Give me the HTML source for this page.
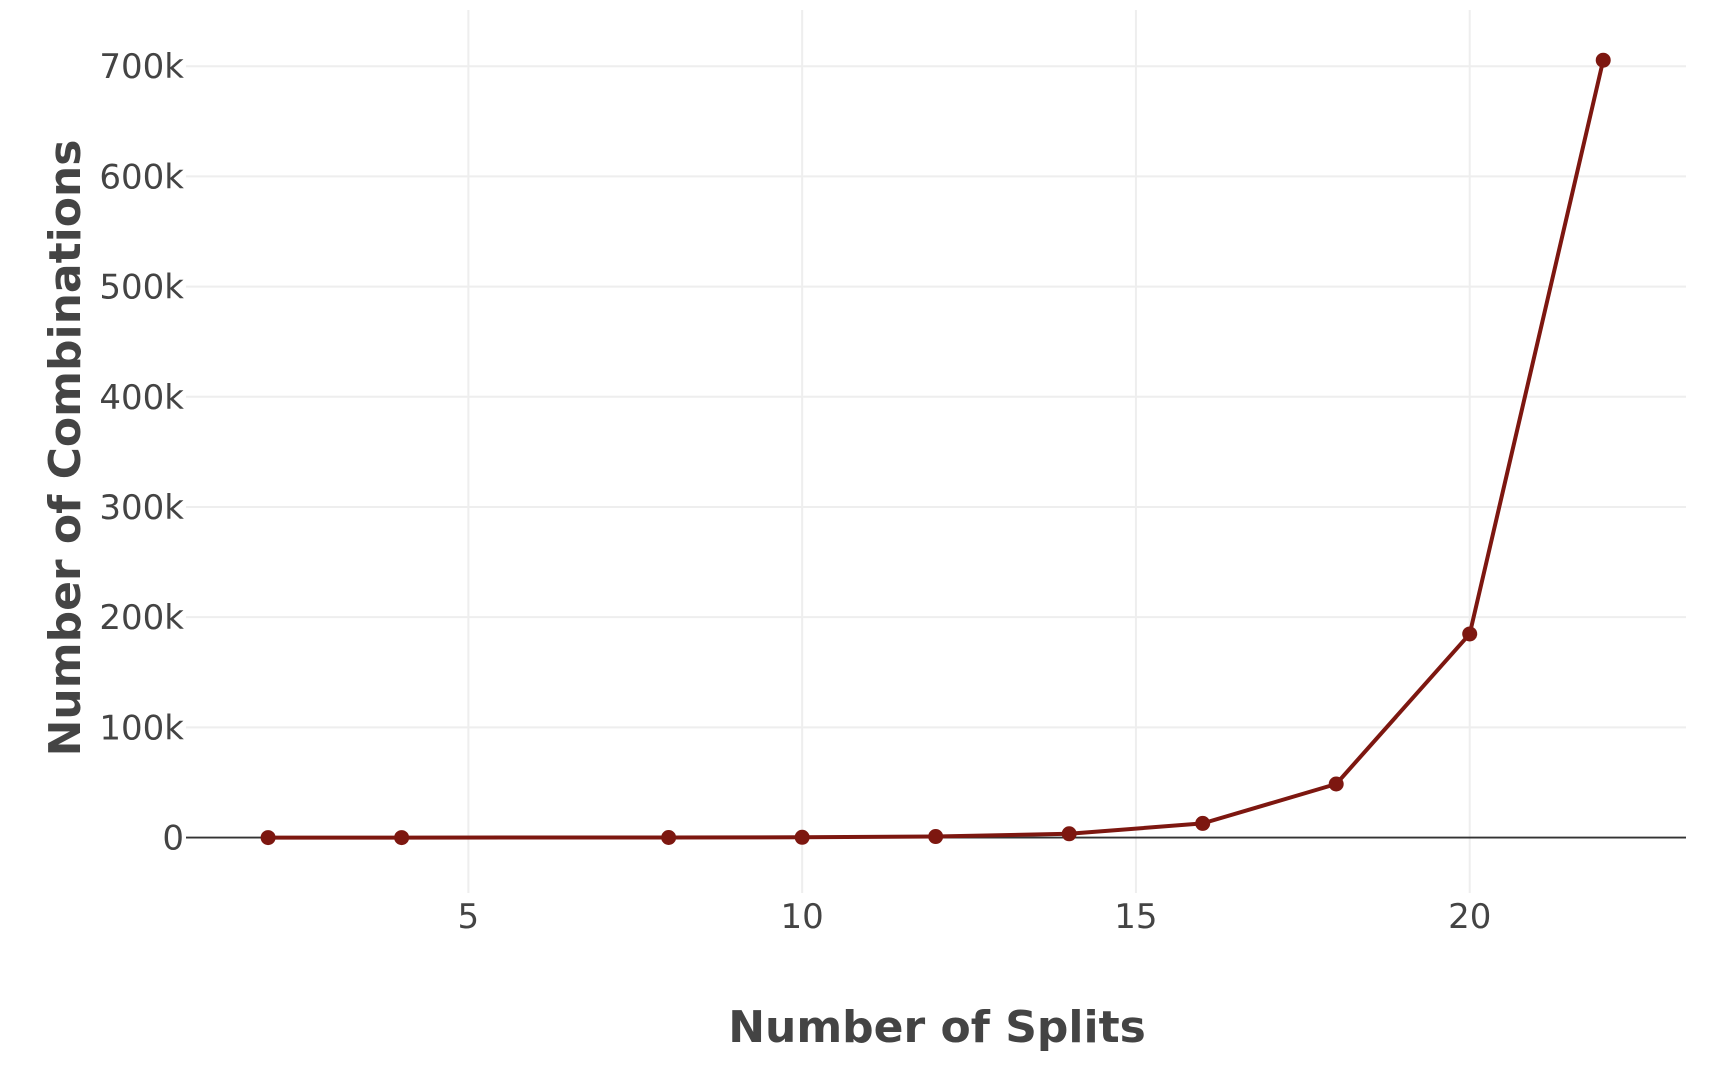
<!DOCTYPE html>
<html><head><meta charset="utf-8"><style>
body{margin:0;background:#fff;}
svg{display:block;font-family:"DejaVu Sans","Liberation Sans",sans-serif;}
</style></head><body>
<svg id="chart" width="1712" height="1092" viewBox="0 0 1712 1092">
<g id="grid"></g>
<g id="axes"></g>
<g id="series"></g>
<text x="937" y="1042" text-anchor="middle" font-size="44" font-weight="bold" fill="#444">Number of Splits</text>
<text transform="translate(80,448) rotate(-90)" text-anchor="middle" font-size="44" font-weight="bold" fill="#444">Number of Combinations</text>
</svg>
<script>
const xValues=[2,4,8,10,12,14,16,18,20,22];
const yValues=[2,6,70,252,924,3432,12870,48620,184756,705432];
const xTicks=[5,10,15,20];
const yTicks=[0,100000,200000,300000,400000,500000,600000,700000];
const yTickLabels=["0","100k","200k","300k","400k","500k","600k","700k"];
const L=186,R=1686,T=10,B=893;
const xMin=0.77,xMax=23.24,yMin=-50300,yMax=751000;
const sx=v=>L+(v-xMin)/(xMax-xMin)*(R-L);
const sy=v=>B-(v-yMin)/(yMax-yMin)*(B-T);
const NS="http://www.w3.org/2000/svg";
function mk(tag,attrs,parent,text){const e=document.createElementNS(NS,tag);for(const k in attrs)e.setAttribute(k,attrs[k]);if(text!==undefined)e.textContent=text;parent.appendChild(e);return e;}
const grid=document.getElementById('grid'),axes=document.getElementById('axes'),series=document.getElementById('series');
xTicks.forEach(t=>{
 const l=mk('line',{x1:sx(t),x2:sx(t),y1:T,y2:B,stroke:'#eee','stroke-width':2},grid);
 
 
 const tx=mk('text',{x:sx(t),y:928,'text-anchor':'middle','font-size':34,fill:'#444'},axes,String(t));
 
 
});
yTicks.forEach((t,i)=>{
 if(t!==0){const l=mk('line',{x1:L,x2:R,y1:sy(t),y2:sy(t),stroke:'#eee','stroke-width':2},grid);
 
 }
 const tx=mk('text',{x:184,y:sy(t)+12,'text-anchor':'end','font-size':34,fill:'#444'},axes,yTickLabels[i]);
 
 
});
const z=mk('line',{x1:L,x2:R,y1:sy(0),y2:sy(0),stroke:'#333','stroke-width':1.8},axes);


const pts=xValues.map((x,i)=>sx(x)+','+sy(yValues[i])).join(' ');
const pl=mk('polyline',{points:pts,fill:'none',stroke:'#7d1710','stroke-width':4,'stroke-linejoin':'round'},series);


xValues.forEach((x,i)=>{
 const c=mk('circle',{cx:sx(x),cy:sy(yValues[i]),r:7.5,fill:'#7d1710'},series);
 
 
});
</script>
</body></html>
